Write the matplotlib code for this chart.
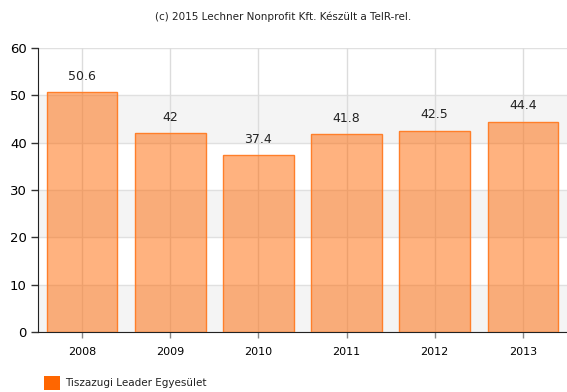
import matplotlib
matplotlib.use("Agg")
import matplotlib.pyplot as plt
from matplotlib.patches import Rectangle

categories = ["2008", "2009", "2010", "2011", "2012", "2013"]
values = [50.6, 42, 37.4, 41.8, 42.5, 44.4]
value_labels = ["50.6", "42", "37.4", "41.8", "42.5", "44.4"]
yticks = [0, 10, 20, 30, 40, 50, 60]
series_name = "Tiszazugi Leader Egyesület"
title = "(c) 2015 Lechner Nonprofit Kft. Készült a TeIR-rel."

plt.rcParams['font.family'] = ['Verdana', 'DejaVu Sans']
fig = plt.figure(figsize=(5.67, 3.92), dpi=100)
ax = fig.add_axes([38/567, 1-332/392, 1-38/567, (332-48)/392])

# alternating bands
for i in range(0, 60, 20):
    ax.axhspan(i, i+10, color="#f4f4f4", zorder=0, lw=0)
for y in yticks:
    ax.axhline(y, color="#e0e0e0", lw=1, zorder=0.5)
x = list(range(len(categories)))
for xi in x:
    ax.axvline(xi, color="#dcdcdc", lw=1, zorder=0.5)

ax.bar(x, values, width=0.8, color="#ff6600", alpha=0.5, edgecolor="none", zorder=2)
ax.bar(x, values, width=0.8, facecolor="none", edgecolor="#ff7f2a", lw=1, zorder=3)

for xi, v, lab in zip(x, values, value_labels):
    ax.text(xi, v + 2.0, lab, ha="center", va="bottom", fontsize=9, color="#222222", zorder=4)

ax.set_xlim(-0.5, 5.5)
ax.set_ylim(0, 60)
ax.set_yticks(yticks)
ax.set_xticks(x)
ax.set_xticklabels(categories)
ax.tick_params(axis="y", labelsize=9.5, length=5, width=1, color="#333333", pad=3)
ax.tick_params(axis="x", labelsize=8, length=4, width=1, color="#888888", pad=7)
for s in ["top", "right"]:
    ax.spines[s].set_visible(False)
ax.spines["left"].set_color("#222222")
ax.spines["bottom"].set_color("#222222")
ax.set_facecolor("white")

fig.text(0.5, 1-17/392, title, ha="center", va="center", fontsize=7.5, color="#222222")
fig.patches.append(Rectangle((44/567, 1-390/392), 16/567, 14/392, transform=fig.transFigure,
                             facecolor="#ff6600", edgecolor="none"))
fig.text(65/567, 1-383/392, series_name, ha="left", va="center", fontsize=7.5, color="#222222")

fig.savefig("out.png", dpi=100)
